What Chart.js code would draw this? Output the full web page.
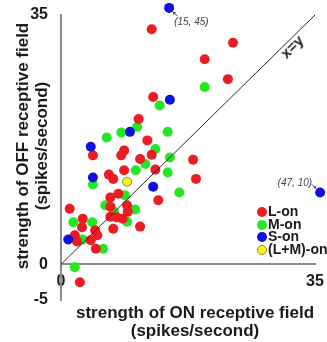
<!DOCTYPE html>
<html>
<head>
<meta charset="utf-8">
<script src="https://cdn.jsdelivr.net/npm/chart.js@4.4.1/dist/chart.umd.min.js"></script>
<style>
  html, body { margin: 0; padding: 0; background: #fff; }
  #wrap { position: relative; width: 327px; height: 342px; overflow: hidden; font-family: "Liberation Sans", Arial, sans-serif; color: #1a1a1a; }
  #wrap canvas { position: absolute; left: 0; top: 0; }
  .ttl { position: absolute; font-weight: bold; font-size: 17px; white-space: nowrap; text-align: center; line-height: 18px; }
  #ytitle { left: -108px; top: 127px; width: 280px; height: 38px; line-height: 19px; transform: rotate(-90deg); }
  #xtitle { left: 55px; top: 304px; width: 280px; }
  #diag { position: absolute; left: 279px; top: 38px; font-size: 15px; font-weight: bold; transform: rotate(-44.5deg); white-space: nowrap; }
  #legend { position: absolute; left: 257px; top: 205px; font-size: 14px; font-weight: bold; }
  #legend div { height: 12.5px; line-height: 12.5px; white-space: nowrap; }
  #legend span { display: inline-block; width: 10px; height: 10px; border-radius: 50%; vertical-align: -1px; margin-right: 1px; box-sizing: border-box; }
</style>
</head>
<body>
<div id="wrap">
  <canvas id="chart" width="327" height="342"></canvas>
  <div id="ytitle" class="ttl">strength of OFF receptive field<br>(spikes/second)</div>
  <div id="xtitle" class="ttl">strength of ON receptive field<br>(spikes/second)</div>
  <div id="diag">x=y</div>
  <div id="legend"></div>
</div>
<script>
// Tick labels shown on each axis
const xTicks = [0, 35];
const yTicks = [-5, 0, 35];

// Reference line x = y
const identityLine = [[0, 0], [35, 35]];

// ON strength, OFF strength (spikes/second) per cell type
const lOn = [
    [12.5, 33.0], [23.7, 31.1], [19.8, 28.8], [23.0, 26.0], [12.7, 23.5],
    [10.7, 20.4], [11.9, 17.4], [4.4, 15.3], [8.7, 16.0], [8.3, 15.3],
    [12.5, 15.4], [10.9, 14.8], [13.0, 13.3], [8.7, 13.2], [6.6, 12.6],
    [7.2, 12.0], [18.2, 14.7], [18.6, 12.0], [13.4, 9.0], [1.2, 7.8],
    [6.8, 9.4], [7.9, 9.9], [9.1, 8.3], [9.2, 7.4], [6.8, 8.1],
    [6.8, 6.7], [7.7, 6.6], [8.5, 6.4], [7.2, 5.0], [10.9, 5.3],
    [3.0, 6.4], [2.9, 5.2], [4.7, 4.8], [5.0, 4.1], [1.9, 4.1],
    [2.2, 3.2], [4.1, 3.4], [4.8, 2.2], [2.6, -2.5]
];
const mOn = [
    [19.8, 24.9], [13.6, 22.3], [14.7, 18.6], [10.5, 19.3], [8.3, 18.5],
    [6.3, 17.8], [13.0, 16.2], [11.6, 14.1], [15.0, 15.0], [10.3, 13.2],
    [14.7, 12.9], [4.4, 11.2], [16.3, 10.1], [8.8, 9.7], [6.1, 8.3],
    [10.2, 7.7], [9.1, 6.0], [1.7, 5.9], [4.3, 5.9], [3.0, 3.5],
    [5.8, 2.2], [1.9, -0.4], [7.3, 7.4]
];
// first and last S-on cells are off scale, drawn at the plot edge
const sOn = [
    [14.9, 36.0], [15.0, 23.1], [9.5, 18.6], [4.1, 16.5], [4.4, 12.2],
    [12.7, 10.9], [1.0, 3.5], [35.7, 10.1]
];
const lmOn = [[9.1, 11.6]];

// Real values of the off-scale cells (index into sOn)
const sOnNotes = [
    { index: 0, text: '(15, 45)' },
    { index: 7, text: '(47, 10)' }
];

const RED = 'rgb(236, 28, 36)';
const GREEN = 'rgb(34, 232, 34)';
const BLUE = 'rgb(16, 16, 222)';
const YELLOW = 'rgb(248, 240, 40)';

function toXY(pts) {
    return pts.map(p => ({ x: p[0], y: p[1] }));
}

function cellSet(label, pts, color, extra) {
    return Object.assign({
        label: label,
        data: toXY(pts),
        backgroundColor: color,
        borderColor: color,
        borderWidth: 0,
        pointRadius: 5,
        pointHoverRadius: 5,
        clip: false
    }, extra || {});
}

// Off-scale points are skipped by Chart.js, so draw them here with a canvas-wide area,
// plus the small italic notes with arrows
const callouts = {
    id: 'callouts',
    afterDatasetsDraw(chart) {
        const meta = chart.getDatasetMeta(3);
        const c = chart.ctx;
        const whole = { left: 0, top: 0, right: chart.width, bottom: chart.height };
        c.save();
        c.font = 'italic 10px "Liberation Sans", Arial, sans-serif';
        sOnNotes.forEach(function(note) {
            const pt = meta.data[note.index];
            pt.draw(c, whole);
            c.fillStyle = '#444';
            c.strokeStyle = '#333';
            c.lineWidth = 1;
            const left = pt.x < chart.chartArea.right;
            const dx = left ? 1 : -1;
            const dy = left ? 1 : -1;
            // arrow
            const ax = pt.x + dx * 4, ay = pt.y + dy * 4;
            const bx = pt.x + dx * 8, by = pt.y + dy * 8;
            c.beginPath();
            c.moveTo(bx, by);
            c.lineTo(ax, ay);
            c.stroke();
            c.beginPath();
            c.moveTo(ax, ay);
            c.lineTo(ax + dx * 3, ay);
            c.lineTo(ax, ay + dy * 3);
            c.closePath();
            c.fill();
            // text
            c.textBaseline = 'middle';
            if (left) {
                c.textAlign = 'left';
                c.fillText(note.text, pt.x + 5, pt.y + 14);
            } else {
                c.textAlign = 'right';
                c.fillText(note.text, pt.x - 8, pt.y - 9);
            }
        });
        c.restore();
    }
};

Chart.defaults.font.family = '"Liberation Sans", Arial, sans-serif';

const chart = new Chart(document.getElementById('chart'), {
    type: 'scatter',
    data: {
        datasets: [
            {
                type: 'line',
                label: 'x=y',
                data: toXY(identityLine),
                borderColor: '#2a2a2a',
                borderWidth: 1,
                pointRadius: 0,
                fill: false,
                order: 0
            },
            cellSet('L-on', lOn, RED, { order: 2 }),
            cellSet('M-on', mOn, GREEN, { order: 3 }),
            cellSet('S-on', sOn, BLUE, { order: 1 }),
            cellSet('(L+M)-on', lmOn, YELLOW, { borderColor: 'rgb(160, 140, 20)', borderWidth: 1, pointRadius: 4.5, order: 1 })
        ]
    },
    options: {
        responsive: false,
        animation: false,
        layout: { padding: { top: 15, right: 12, bottom: 42, left: 0 } },
        plugins: {
            legend: { display: false },
            tooltip: { enabled: false }
        },
        scales: {
            x: {
                type: 'linear',
                min: 0,
                max: 35,
                position: { y: 0 },
                grid: { display: false },
                border: { color: '#8c8c8c', width: 2 },
                afterBuildTicks: function(scale) {
                    scale.ticks = xTicks.map(v => ({ value: v }));
                },
                ticks: { padding: 0, maxRotation: 0, autoSkip: false, color: '#1a1a1a', font: { size: 16, weight: 'bold' } }
            },
            y: {
                type: 'linear',
                min: -5,
                max: 35,
                position: 'left',
                grid: { display: false },
                border: { color: '#8c8c8c', width: 2 },
                afterBuildTicks: function(scale) {
                    scale.ticks = yTicks.map(v => ({ value: v }));
                },
                afterFit: function(scale) {
                    scale.width = 61;
                },
                ticks: { padding: 5, autoSkip: false, color: '#1a1a1a', font: { size: 16, weight: 'bold' } }
            }
        }
    },
    plugins: [callouts]
});

// Legend built from the datasets
const legend = document.getElementById('legend');
chart.data.datasets.slice(1).forEach(function(ds) {
    const row = document.createElement('div');
    const dot = document.createElement('span');
    dot.style.background = ds.backgroundColor;
    if (ds.borderWidth) dot.style.border = '1px solid ' + ds.borderColor;
    row.appendChild(dot);
    row.appendChild(document.createTextNode(ds.label));
    legend.appendChild(row);
});
</script>
</body>
</html>
